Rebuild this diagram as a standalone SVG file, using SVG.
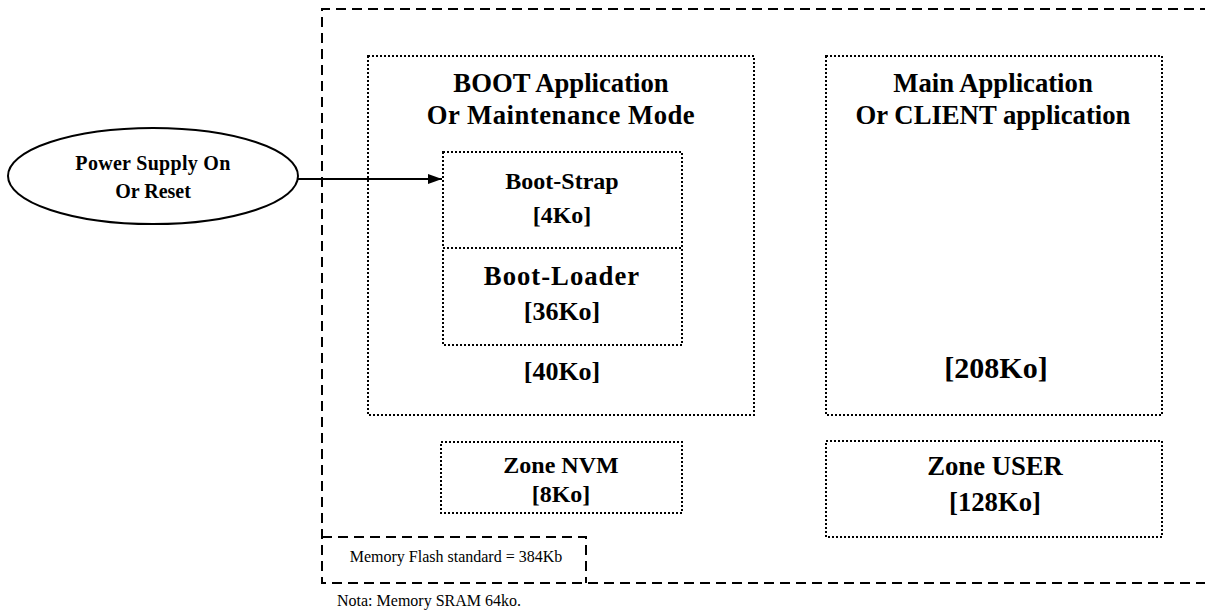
<svg xmlns="http://www.w3.org/2000/svg" width="1205" height="612" viewBox="0 0 1205 612">
  <style>
    .dash { fill: none; stroke: #000; stroke-width: 2; stroke-dasharray: 10 6; }
    .dot { fill: none; stroke: #000; stroke-width: 2; stroke-dasharray: 2 2; }
    .t { font-family: "Liberation Serif", "Times New Roman", serif; font-weight: bold; fill: #000; text-anchor: middle; }
    .r { font-family: "Liberation Serif", "Times New Roman", serif; fill: #000; }
  </style>
  <defs>
    <marker id="arrow" viewBox="0 0 14 10" refX="14" refY="5" markerWidth="14" markerHeight="10" markerUnits="userSpaceOnUse" orient="auto">
      <path d="M0,0 L14,5 L0,10 z" fill="#000"/>
    </marker>
  </defs>
  <rect width="1205" height="612" fill="#fff"/>

  <!-- flash memory frame, open on the right -->
  <g id="flash">
    <path class="dash" d="M1210,9 L322,9 L322,583 L1210,583"/>
  </g>

  <g id="boot-app">
    <rect class="dot" x="368" y="56" width="386" height="359"/>
    <text class="t" x="561" y="92" font-size="26.7">BOOT Application</text>
    <text class="t" x="561" y="124" font-size="26.7" letter-spacing="0.5">Or Maintenance Mode</text>
    <text class="t" x="562" y="380" font-size="26">[40Ko]</text>
  </g>

  <g id="boot-strap">
    <rect class="dot" x="443" y="152" width="239" height="96"/>
    <text class="t" x="562" y="189" font-size="24">Boot-Strap</text>
    <text class="t" x="562" y="223" font-size="24">[4Ko]</text>
  </g>

  <g id="boot-loader">
    <rect class="dot" x="443" y="248" width="239" height="97"/>
    <text class="t" x="562" y="285" font-size="26.7" letter-spacing="1">Boot-Loader</text>
    <text class="t" x="562" y="320" font-size="26">[36Ko]</text>
  </g>

  <g id="zone-nvm">
    <rect class="dot" x="441" y="442" width="241" height="71"/>
    <text class="t" x="561" y="473" font-size="24">Zone NVM</text>
    <text class="t" x="561" y="502" font-size="24">[8Ko]</text>
  </g>

  <g id="main-app">
    <rect class="dot" x="826" y="56" width="336" height="359"/>
    <text class="t" x="993" y="92" font-size="26.7">Main Application</text>
    <text class="t" x="993" y="124" font-size="26.7">Or CLIENT application</text>
    <text class="t" x="996" y="378" font-size="30">[208Ko]</text>
  </g>

  <g id="zone-user">
    <rect class="dot" x="826" y="441" width="336" height="96"/>
    <text class="t" x="995" y="475" font-size="26.7">Zone USER</text>
    <text class="t" x="995" y="511" font-size="26.7">[128Ko]</text>
  </g>

  <g id="flash-label">
    <path class="dash" d="M322,537 L586,537 L586,583"/>
    <text class="r" x="456" y="562" font-size="16" text-anchor="middle">Memory Flash standard = 384Kb</text>
  </g>

  <g id="power">
    <ellipse cx="153" cy="176" rx="145" ry="48" fill="#fff" stroke="#000" stroke-width="2"/>
    <text class="t" x="153" y="170" font-size="20" letter-spacing="0.3">Power Supply On</text>
    <text class="t" x="153" y="198" font-size="20">Or Reset</text>
  </g>

  <g id="connectors">
    <line x1="298" y1="179" x2="442" y2="179" stroke="#000" stroke-width="2" marker-end="url(#arrow)"/>
  </g>

  <text id="note" class="r" x="337" y="606" font-size="16">Nota: Memory SRAM 64ko.</text>
</svg>
